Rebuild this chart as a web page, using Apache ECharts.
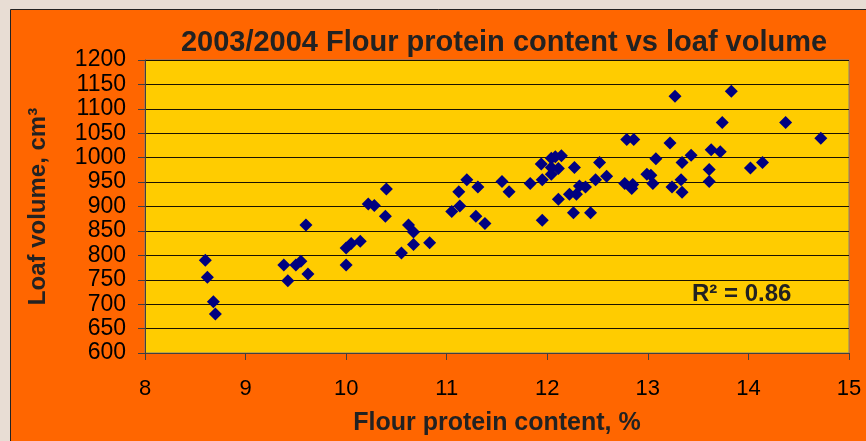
<!DOCTYPE html>
<html>
<head>
<meta charset="utf-8">
<script src="https://cdn.jsdelivr.net/npm/echarts@6/dist/echarts.min.js"></script>
<style>
  html, body { margin: 0; padding: 0; background: #e8ddd4; }
  #chart { width: 866px; height: 441px; }
</style>
</head>
<body>
<div id="chart"></div>
<script>
/* 2003/2004 flour protein vs loaf volume scatter */
const protein = [
  8.60, 8.62, 8.68, 8.70, 9.38, 9.42, 9.50, 9.55, 9.62, 9.60,
  10.00, 10.00, 10.05, 10.14, 10.22, 10.28, 10.39, 10.40, 10.55, 10.62,
  10.67, 10.67, 10.83, 11.05, 11.13, 11.12, 11.20, 11.31, 11.29, 11.38,
  11.55, 11.62, 11.83, 11.94, 11.95, 11.95, 12.04, 12.08, 12.14, 12.04,
  12.11, 12.04, 12.11, 12.27, 12.22, 12.29, 12.32, 12.38, 12.26, 12.43,
  12.52, 12.48, 12.59, 12.77, 12.84, 12.85, 12.79, 12.86, 12.99, 13.03,
  13.05, 13.08, 13.22, 13.27, 13.24, 13.33, 13.34, 13.34, 13.43, 13.61,
  13.61, 13.63, 13.72, 13.74, 13.83, 14.02, 14.14, 14.37, 14.72
];
const loafVolume = [
  790, 755, 705, 680, 780, 748, 780, 788, 762, 862,
  780, 815, 824, 829, 905, 902, 880, 936, 805, 862,
  848, 822, 826, 890, 901, 930, 955, 940, 880, 865,
  951, 930, 947, 987, 955, 872, 999, 1002, 1004, 980,
  978, 966, 915, 980, 925, 925, 942, 940, 887, 887,
  990, 955, 962, 947, 937, 945, 1037, 1037, 966, 964,
  947, 998, 1030, 1126, 940, 955, 990, 929, 1005, 976,
  951, 1016, 1012, 1072, 1136, 979, 990, 1072, 1040
];
const xTicks = { min: 8, max: 15, step: 1 };
const yTicks = { min: 600, max: 1200, step: 50 };
const rSquared = 'R² = 0.86';

const chart = echarts.init(document.getElementById('chart'));
const font = '"Liberation Sans", Arial, sans-serif';

chart.setOption({
  backgroundColor: '#e8ddd4',
  animation: false,
  title: {
    text: '2003/2004 Flour protein content vs loaf volume',
    left: 499, top: 23, textAlign: 'center',
    textStyle: { fontFamily: font, fontSize: 29, fontWeight: 'bold', color: '#222' }
  },
  graphic: [
    {
      type: 'rect', z: -10, silent: true,
      shape: { x: 10.5, y: 9.5, width: 870, height: 450 },
      style: { fill: '#ff6600', stroke: '#222', lineWidth: 1 }
    },
    {
      type: 'text', left: 692, top: 282, z: 10,
      style: { text: rSquared, fontFamily: font, fontSize: 24, fontWeight: 'bold', fill: '#222' }
    }
  ],
  grid: {
    left: 145, right: 17, top: 60, bottom: 85,
    show: true, backgroundColor: '#ffcc00', borderColor: '#808080', borderWidth: 1
  },
  xAxis: {
    type: 'value', min: xTicks.min, max: xTicks.max, interval: xTicks.step,
    name: 'Flour protein content, %', nameLocation: 'middle', nameGap: 58,
    nameTextStyle: { fontFamily: font, fontSize: 25, fontWeight: 'bold', color: '#222' },
    axisLine: { show: true, lineStyle: { color: '#404040', width: 1 } },
    axisTick: { show: true, inside: false, length: 7, lineStyle: { color: '#404040' } },
    axisLabel: { fontFamily: font, fontSize: 22, color: '#000', margin: 25 },
    splitLine: { show: false }
  },
  yAxis: {
    type: 'value', min: yTicks.min, max: yTicks.max, interval: yTicks.step,
    name: 'Loaf volume, cm³', nameLocation: 'middle', nameGap: 95, nameRotate: 90,
    nameTextStyle: { fontFamily: font, fontSize: 24, fontWeight: 'bold', color: '#222' },
    axisLine: { show: true, lineStyle: { color: '#404040', width: 1 } },
    axisTick: { show: true, inside: false, length: 7, lineStyle: { color: '#404040' } },
    axisLabel: { fontFamily: font, fontSize: 23, color: '#000', margin: 19, formatter: v => String(v) },
    splitLine: { show: true, lineStyle: { color: '#1a1200', width: 1 } }
  },
  series: [{
    type: 'scatter',
    data: protein.map((p, i) => [p, loafVolume[i]]),
    symbol: 'diamond', symbolSize: 13,
    itemStyle: { color: '#000080', opacity: 1 }
  }]
});
</script>
</body>
</html>
